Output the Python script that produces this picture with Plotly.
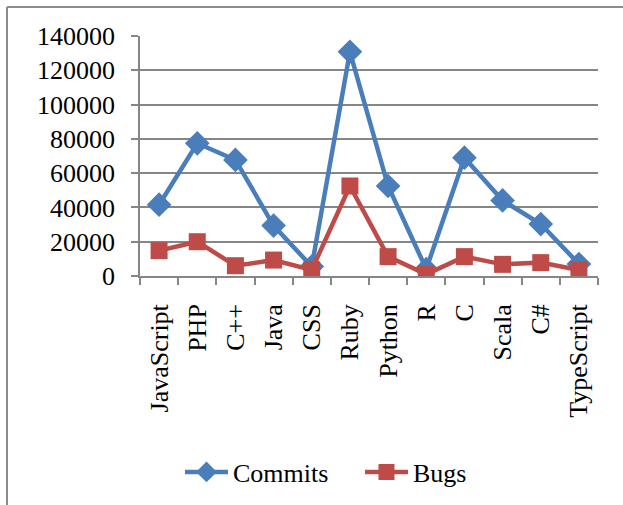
import plotly.graph_objects as go

categories = ["JavaScript", "PHP", "C++", "Java", "CSS", "Ruby", "Python", "R", "C", "Scala", "C#", "TypeScript"]
commits = [41600, 77400, 67700, 29400, 5500, 130800, 52500, 4000, 69000, 44100, 30300, 7000]
bugs = [14800, 20000, 6000, 9300, 3600, 52500, 11300, 1000, 11300, 6800, 7800, 3500]
y_ticks = [0, 20000, 40000, 60000, 80000, 100000, 120000, 140000]

font_family = "Liberation Serif, Times New Roman, serif"

fig = go.Figure()
fig.add_trace(go.Scatter(
    x=categories, y=commits, name="Commits", mode="lines+markers",
    line=dict(color="#4A7EBB", width=4.5),
    marker=dict(symbol="diamond", size=19, color="#4A7EBB"),
))
fig.add_trace(go.Scatter(
    x=categories, y=bugs, name="Bugs", mode="lines+markers",
    line=dict(color="#BE4B48", width=4.5),
    marker=dict(symbol="square", size=17, color="#BE4B48"),
))

L, R, T, B = 140, 598, 36, 276
W, H = 623, 505
def px(x):
    return (x - L) / (R - L)
def py(y):
    return (B - y) / (B - T)

fig.update_layout(
    width=W, height=H,
    margin=dict(l=L, r=W - R, t=T, b=H - B, autoexpand=False),
    paper_bgcolor="white", plot_bgcolor="white",
    font=dict(family=font_family, size=26, color="black"),
    showlegend=True,
    legend=dict(orientation="h", x=px(180), xanchor="left", y=py(472), yanchor="middle",
                font=dict(size=26), itemwidth=43, traceorder="normal",
                entrywidth=122, entrywidthmode="pixels"),
    xaxis=dict(
        type="category", range=[-0.5, len(categories) - 0.5],
        showline=True, linecolor="#868686", linewidth=1.5,
        ticks="outside", tickson="boundaries", ticklen=7, tickcolor="#868686", tickwidth=1.5,
        tickangle=-90, tickfont=dict(size=26, family=font_family),
        ticklabelstandoff=16, showgrid=False,
    ),
    yaxis=dict(
        range=[0, 140000], tickvals=y_ticks, ticktext=[str(v) for v in y_ticks],
        showline=True, linecolor="#868686", linewidth=1.5,
        ticks="outside", ticklen=7, tickcolor="#868686", tickwidth=1.5,
        showgrid=True, gridcolor="#868686", gridwidth=1.5,
        tickfont=dict(size=26, family=font_family),
        ticklabelstandoff=11, zeroline=False,
    ),
    shapes=[
        dict(type="line", xref="paper", yref="paper", x0=px(7), x1=px(640), y0=py(7), y1=py(7),
             line=dict(color="#8C8C8C", width=2)),
        dict(type="line", xref="paper", yref="paper", x0=px(7), x1=px(7), y0=py(7), y1=py(520),
             line=dict(color="#8C8C8C", width=2)),
    ],
)

fig.write_html(
    "out.html",
    config={"displayModeBar": False},
    post_script="document.body.style.margin='0';document.body.style.padding='0';",
)
